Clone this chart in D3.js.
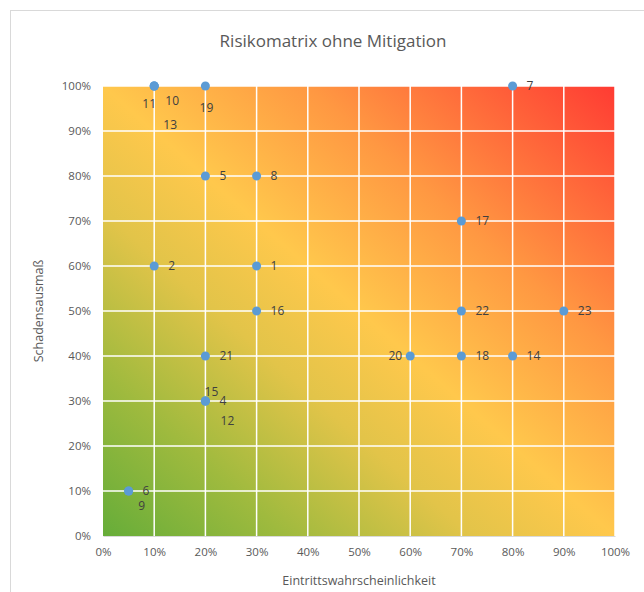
<!DOCTYPE html>
<html lang="de">
<head>
<meta charset="UTF-8">
<title>Risikomatrix ohne Mitigation</title>
<script src="https://cdnjs.cloudflare.com/ajax/libs/d3/7.8.5/d3.min.js"></script>
<style>
    body { margin: 0; background: #fff; }
    svg { display: block; }
    text { font-family: "Open Sans", "Liberation Sans", sans-serif; }
    .tick text { fill: #595959; font-size: 11.5px; }
    .lbl { fill: #404040; font-size: 12px; }
</style>
</head>
<body>
<svg width="644" height="592"></svg>
<script>
    // Risiken: Eintrittswahrscheinlichkeit (x) und Schadensausmaß (y)
    const riskIds = ["1", "2", "4", "5", "6", "7", "8", "9", "10", "11", "12", "13", "14", "15", "16", "17", "18", "19", "20", "21", "22", "23"];
    const probability = [0.3, 0.1, 0.2, 0.2, 0.05, 0.8, 0.3, 0.05, 0.1, 0.1, 0.2, 0.1, 0.8, 0.2, 0.3, 0.7, 0.7, 0.2, 0.6, 0.2, 0.7, 0.9];
    const impact = [0.6, 0.6, 0.3, 0.8, 0.1, 1.0, 0.8, 0.1, 1.0, 1.0, 0.3, 1.0, 0.4, 0.3, 0.5, 0.7, 0.4, 1.0, 0.4, 0.4, 0.5, 0.5];
    const tickValues = [0, 0.1, 0.2, 0.3, 0.4, 0.5, 0.6, 0.7, 0.8, 0.9, 1.0];

    const points = riskIds.map((id, i) => ({ id, x: probability[i], y: impact[i] }));

    // label offsets for overlapping points (dx, dy, anchor)
    const labelOffset = {
        "11": [-5, 18, "middle"], "10": [18, 15, "middle"], "13": [16, 39, "middle"],
        "19": [1, 22, "middle"], "15": [6, -9, "middle"], "12": [22, 20, "middle"],
        "9": [13, 15, "middle"], "20": [-8, 0, "end"]
    };

    const svg = d3.select("svg");
    const x = d3.scaleLinear().domain([0, 1]).range([103, 615]);
    const y = d3.scaleLinear().domain([0, 1]).range([536, 86]);
    const pct = d3.format(".0%");

    svg.append("rect").attr("x", 10.5).attr("y", 10.5).attr("width", 700).attr("height", 700)
        .attr("fill", "none").attr("stroke", "#d9d9d9");

    const defs = svg.append("defs");
    const grad = defs.append("linearGradient").attr("id", "risk")
        .attr("x1", 0).attr("y1", 1).attr("x2", 1).attr("y2", 0);
    [[0, "#66ad39"], [0.18, "#9fba3e"], [0.36, "#e2c449"], [0.5, "#ffc84c"],
     [0.7, "#ff9842"], [1, "#ff3b33"]].forEach(s =>
        grad.append("stop").attr("offset", s[0]).attr("stop-color", s[1]));

    svg.append("rect")
        .attr("x", x(0)).attr("y", y(1))
        .attr("width", x(1) - x(0)).attr("height", y(0) - y(1))
        .attr("fill", "url(#risk)");

    // grid
    svg.append("g").selectAll("line").data(tickValues.slice(1)).join("line")
        .attr("x1", d => x(d)).attr("x2", d => x(d)).attr("y1", y(0)).attr("y2", y(1))
        .attr("stroke", "#fff").attr("stroke-width", 1.5);
    svg.append("g").selectAll("line").data(tickValues.slice(1)).join("line")
        .attr("x1", x(0)).attr("x2", x(1)).attr("y1", d => y(d)).attr("y2", d => y(d))
        .attr("stroke", "#fff").attr("stroke-width", 1.5);

    const xAxis = svg.append("g").attr("transform", `translate(0,${y(0)})`)
        .call(d3.axisBottom(x).tickValues(tickValues).tickFormat(pct).tickSize(0).tickPadding(12));
    xAxis.select(".domain").attr("stroke", "#d9d9d9");

    const yAxis = svg.append("g").attr("transform", `translate(${x(0)},0)`)
        .call(d3.axisLeft(y).tickValues(tickValues).tickFormat(pct).tickSize(0).tickPadding(12));
    yAxis.select(".domain").remove();

    // points
    svg.append("g").selectAll("circle").data(points).join("circle")
        .attr("cx", d => x(d.x)).attr("cy", d => y(d.y)).attr("r", 4.5)
        .attr("fill", "#5b9bd5");

    svg.append("g").selectAll("text").data(points).join("text")
        .attr("class", "lbl")
        .attr("x", d => x(d.x) + (labelOffset[d.id] ? labelOffset[d.id][0] : 14))
        .attr("y", d => y(d.y) + (labelOffset[d.id] ? labelOffset[d.id][1] : 0))
        .attr("dy", "0.35em")
        .attr("text-anchor", d => labelOffset[d.id] ? labelOffset[d.id][2] : "start")
        .text(d => d.id);

    svg.append("text").attr("x", 333).attr("y", 47).attr("text-anchor", "middle")
        .attr("fill", "#595959").style("font-size", "17px").text("Risikomatrix ohne Mitigation");

    svg.append("text").attr("x", 359).attr("y", 585).attr("text-anchor", "middle")
        .attr("fill", "#595959").style("font-size", "12.5px").text("Eintrittswahrscheinlichkeit");

    svg.append("text").attr("transform", "translate(43,311) rotate(-90)").attr("text-anchor", "middle")
        .attr("fill", "#595959").style("font-size", "12.5px").text("Schadensausmaß");
</script>
</body>
</html>
